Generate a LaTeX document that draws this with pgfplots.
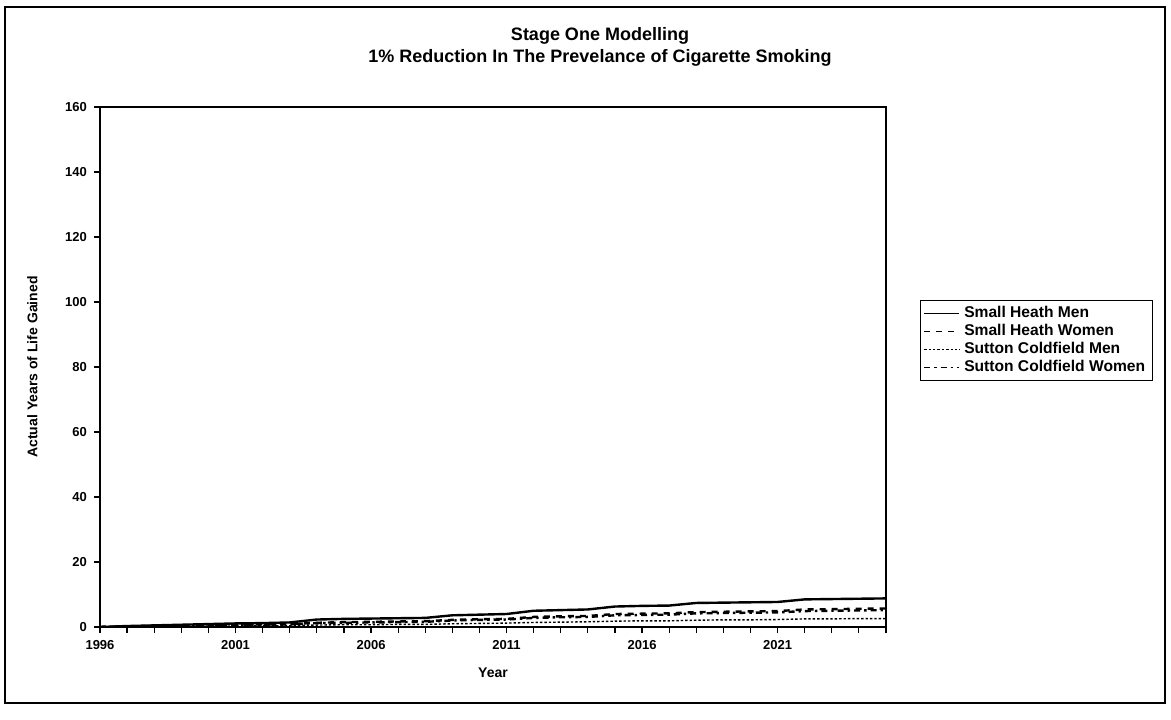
\documentclass[border=0pt]{standalone}
\usepackage{pgfplots}
\pgfplotsset{compat=1.18}
\usepackage{fontspec}
\setmainfont{Liberation Sans}

\pgfplotstableread{
year shm shw scm scw
1996 0.0 0.0 0.0 0.0
1997 0.3 0.2 0.1 0.2
1998 0.5 0.3 0.2 0.3
1999 0.7 0.4 0.2 0.4
2000 0.9 0.5 0.3 0.5
2001 1.1 0.7 0.3 0.6
2002 1.2 0.8 0.4 0.7
2003 1.4 0.9 0.4 0.8
2004 2.3 1.3 0.6 1.2
2005 2.5 1.5 0.7 1.3
2006 2.6 1.6 0.7 1.4
2007 2.7 1.7 0.8 1.5
2008 2.8 1.8 0.8 1.6
2009 3.6 2.2 1.0 2.0
2010 3.8 2.4 1.1 2.2
2011 4.0 2.5 1.2 2.3
2012 5.0 3.1 1.4 2.8
2013 5.2 3.3 1.5 3.0
2014 5.4 3.4 1.6 3.1
2015 6.3 4.0 1.8 3.6
2016 6.5 4.1 1.9 3.7
2017 6.6 4.2 1.9 3.8
2018 7.4 4.6 2.1 4.2
2019 7.5 4.7 2.2 4.3
2020 7.6 4.8 2.2 4.4
2021 7.7 4.9 2.3 4.5
2022 8.5 5.4 2.5 4.9
2023 8.6 5.5 2.5 5.0
2024 8.7 5.6 2.6 5.1
2025 8.8 5.7 2.6 5.2
}\datatable

\begin{document}
\begin{tikzpicture}[font=\bfseries]
% page size and outer chart frame
\path (-50pt,-46pt) rectangle (535.5pt,313.5pt);
\draw[line width=1pt] (-47.5pt,-38pt) rectangle (532.5pt,310pt);
\node[font=\bfseries\fontsize{9}{11}\selectfont, align=center] at (250pt,290pt)
  {Stage One Modelling\\1\% Reduction In The Prevelance of Cigarette Smoking};
\begin{axis}[
  scale only axis,
  width=393pt, height=260pt,
  xmin=1996, xmax=2025,
  ymin=0, ymax=160,
  axis line style={line width=1pt},
  xtick={1996,2001,2006,2011,2016,2021},
  minor xtick={1996,...,2025},
  ytick={0,20,...,160},
  xticklabel style={/pgf/number format/.cd,set thousands separator={},assume math mode=true},
  yticklabel style={/pgf/number format/assume math mode=true},
  tick label style={font=\bfseries\fontsize{6.5}{8}\selectfont},
  tick align=outside,
  major tick length=3pt, minor tick length=3pt,
  xtick pos=bottom, ytick pos=left,
  every tick/.style={black,line width=0.6pt},
  xlabel={Year},
  ylabel={Actual Years of Life Gained},
  label style={font=\bfseries\fontsize{7}{9}\selectfont},
  xlabel style={yshift=-2.5pt},
  ylabel style={yshift=7pt},
  legend cell align=left,
  legend style={at={(1.043,0.629)}, anchor=north west, draw=black, line width=0.6pt,
    font=\bfseries\fontsize{7.8}{9}\selectfont, row sep=-2.2pt,
    inner xsep=1.5pt, inner ysep=1pt},
  legend image code/.code={\draw[#1,line width=0.8pt] (0cm,0cm) -- (0.62cm,0cm);},
  every axis plot/.append style={black, line width=1.2pt},
]
\addplot[solid] table[x=year,y=shm] {\datatable};
\addlegendentry{Small Heath Men}
\addplot[dashed] table[x=year,y=shw] {\datatable};
\addlegendentry{Small Heath Women}
\addplot[densely dotted, line width=0.7pt] table[x=year,y=scm] {\datatable};
\addlegendentry{Sutton Coldfield Men}
\addplot[dash dot] table[x=year,y=scw] {\datatable};
\addlegendentry{Sutton Coldfield Women}
\end{axis}
\end{tikzpicture}
\end{document}
